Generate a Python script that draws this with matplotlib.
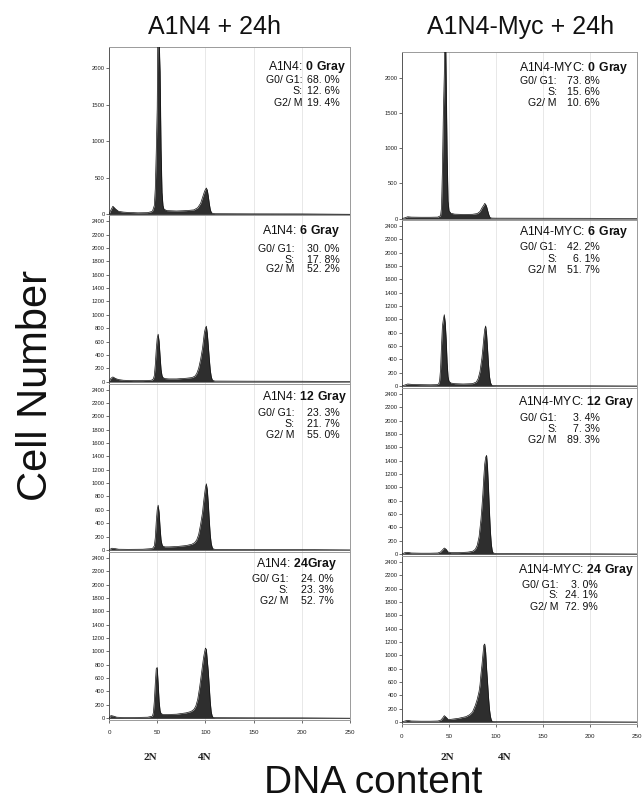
import matplotlib
matplotlib.use("Agg")
import matplotlib.pyplot as plt

plt.rcParams['font.family'] = ['Liberation Sans', 'DejaVu Sans']
plt.rcParams['mathtext.fontset'] = 'custom'
plt.rcParams['mathtext.rm'] = 'Liberation Sans'
plt.rcParams['mathtext.bf'] = 'Liberation Sans:bold'

# ---------------- data ----------------
col_titles = ["A1N4 + 24h", "A1N4-Myc + 24h"]
left_prefix = "A1N4: "
right_prefix = "A1N4-MYC: "
left_dose_labels = ["0 Gray", "6 Gray", "12 Gray", "24Gray"]
right_dose_labels = ["0 Gray", "6 Gray", "12 Gray", "24 Gray"]
phase_labels = ["G0/ G1:", "S:", "G2/ M"]
left_pct = [["68. 0%", "12. 6%", "19. 4%"],
            ["30. 0%", "17. 8%", "52. 2%"],
            ["23. 3%", "21. 7%", "55. 0%"],
            ["24. 0%", "23. 3%", "52. 7%"]]
right_pct = [["73. 8%", "15. 6%", "10. 6%"],
             ["42. 2%", "6. 1%", "51. 7%"],
             ["3. 4%", "7. 3%", "89. 3%"],
             ["3. 0%", "24. 1%", "72. 9%"]]

# histograms (channel, cell count)
L0_x = [0, 2, 4, 7, 10, 15, 20, 30, 40, 45, 47, 48, 49, 50, 51, 52, 53, 54, 55, 56, 57, 60, 70, 80, 88, 92, 95, 97, 99, 100, 101, 102, 103, 104, 105, 106, 107, 110, 150, 200, 250]
L0_y = [0, 60, 110, 70, 40, 30, 25, 20, 22, 40, 120, 350, 850, 1450, 3000, 2400, 1950, 900, 300, 120, 70, 50, 45, 50, 60, 90, 150, 230, 310, 340, 360, 330, 250, 150, 70, 30, 15, 8, 6, 5, 0]

L6_x = [0, 2, 4, 7, 10, 15, 25, 35, 44, 46, 47, 48, 49, 50, 51, 52, 53, 54, 55, 56, 58, 62, 70, 80, 86, 89, 91, 93, 95, 97, 98, 99, 100, 101, 102, 103, 104, 105, 106, 107, 108, 110, 150, 200, 250]
L6_y = [0, 50, 70, 45, 30, 20, 15, 15, 20, 40, 90, 250, 480, 650, 710, 600, 380, 180, 90, 60, 45, 40, 40, 50, 60, 80, 120, 200, 330, 500, 620, 740, 800, 830, 720, 540, 350, 180, 80, 30, 15, 8, 6, 5, 0]

L12_x = [0, 3, 6, 10, 20, 35, 45, 47, 48, 49, 50, 51, 52, 53, 54, 55, 56, 58, 62, 70, 80, 86, 89, 91, 93, 95, 97, 98, 99, 100, 101, 102, 103, 104, 105, 106, 107, 108, 110, 150, 200, 250]
L12_y = [0, 25, 20, 10, 8, 10, 20, 60, 180, 420, 600, 670, 560, 330, 150, 80, 55, 45, 45, 50, 65, 85, 110, 150, 230, 380, 560, 700, 820, 930, 990, 900, 700, 450, 230, 100, 40, 15, 8, 6, 5, 0]

L24_x = [0, 2, 5, 8, 15, 25, 40, 45, 46, 47, 48, 49, 50, 51, 52, 53, 54, 56, 60, 70, 80, 85, 88, 90, 92, 94, 96, 98, 99, 100, 101, 102, 103, 104, 105, 106, 107, 108, 110, 150, 200, 250]
L24_y = [0, 40, 30, 15, 10, 10, 15, 30, 80, 250, 520, 740, 760, 520, 250, 110, 70, 55, 55, 60, 80, 100, 130, 180, 280, 460, 680, 900, 980, 1050, 1030, 860, 700, 480, 250, 100, 35, 12, 8, 6, 5, 0]

R0_x = [0, 3, 6, 10, 20, 30, 38, 41, 42, 43, 44, 45, 46, 47, 48, 49, 50, 52, 56, 65, 75, 80, 83, 85, 87, 88, 89, 90, 91, 92, 93, 94, 96, 100, 150, 200, 250]
R0_y = [0, 10, 25, 20, 18, 18, 20, 40, 150, 700, 1500, 2050, 3000, 2000, 900, 250, 110, 75, 62, 58, 60, 70, 100, 150, 190, 215, 200, 170, 120, 70, 30, 10, 6, 5, 4, 3, 0]

R6_x = [0, 3, 6, 10, 20, 30, 37, 39, 40, 41, 42, 43, 44, 45, 46, 47, 48, 49, 50, 52, 56, 65, 75, 79, 81, 83, 85, 86, 87, 88, 89, 90, 91, 92, 93, 94, 95, 96, 100, 150, 200, 250]
R6_y = [0, 15, 30, 25, 20, 18, 20, 30, 80, 250, 600, 900, 1000, 1070, 950, 700, 350, 140, 70, 45, 35, 30, 35, 60, 110, 220, 420, 560, 720, 850, 900, 780, 560, 330, 150, 60, 20, 8, 5, 4, 3, 0]

R12_x = [0, 3, 6, 10, 20, 30, 38, 41, 43, 45, 47, 49, 52, 60, 70, 75, 78, 80, 82, 84, 85, 86, 87, 88, 89, 90, 91, 92, 93, 94, 95, 96, 97, 100, 150, 200, 250]
R12_y = [0, 20, 25, 15, 12, 12, 15, 30, 60, 90, 70, 30, 20, 20, 28, 40, 70, 130, 260, 520, 700, 900, 1150, 1350, 1450, 1480, 1300, 1000, 650, 350, 150, 50, 15, 6, 4, 3, 0]

R24_x = [0, 3, 6, 10, 20, 30, 38, 41, 43, 45, 47, 49, 52, 60, 68, 72, 75, 78, 80, 82, 83, 84, 85, 86, 87, 88, 89, 90, 91, 92, 93, 94, 95, 96, 100, 150, 200, 250]
R24_y = [0, 15, 25, 15, 12, 12, 15, 25, 55, 95, 70, 40, 40, 55, 80, 110, 150, 250, 340, 460, 560, 720, 850, 1000, 1150, 1170, 1050, 800, 600, 380, 200, 90, 30, 10, 6, 4, 3, 0]

left_hists = [(L0_x, L0_y), (L6_x, L6_y), (L12_x, L12_y), (L24_x, L24_y)]
right_hists = [(R0_x, R0_y), (R6_x, R6_y), (R12_x, R12_y), (R24_x, R24_y)]

x_ticks = [0, 50, 100, 150, 200, 250]
top_yticks = [0, 500, 1000, 1500, 2000]
yticks = list(range(0, 2401, 200))
ploidy_labels = ["2N", "4N"]

# ---------------- layout (pixels) ----------------
W, H = 642, 811
fig = plt.figure(figsize=(W / 100, H / 100), dpi=100)

def px_axes(x0, x1, y0, y1):
    return fig.add_axes([x0 / W, 1 - y1 / H, (x1 - x0) / W, (y1 - y0) / H])

cols = [
    dict(x0=109, x1=350, top=47, ph=168.3, hists=left_hists, prefix=left_prefix,
         dl=left_dose_labels, pct=left_pct, top_ylim=(-14, 2292),
         tx=[268, 262, 262, 256], lab=[302, 294, 294, 288], val=[340, 340, 340, 334],
         ty=[20, 16, 13, 12], sy=[[33, 44, 56], [34, 45, 54], [29, 40, 51], [27, 38, 49]]),
    dict(x0=402, x1=637, top=52, ph=168.0, hists=right_hists, prefix=right_prefix,
         dl=right_dose_labels, pct=right_pct, top_ylim=(-21, 2365),
         tx=[519, 519, 518, 518], lab=[557, 557, 557, 558], val=[600, 600, 600, 598],
         ty=[16, 12, 14, 14], sy=[[29, 40, 51], [27, 39, 50], [30, 41, 52], [29, 39, 51]]),
]

fill_c = '#2e2e2e'
for ci, c in enumerate(cols):
    for i in range(4):
        ytop = c['top'] + i * c['ph']
        ax = px_axes(c['x0'], c['x1'], ytop, ytop + c['ph'])
        hx, hy = c['hists'][i]
        ax.fill_between(hx, 0, hy, color=fill_c, lw=0.0, zorder=3)
        ax.plot(hx, hy, color='#111111', lw=0.5, zorder=4)
        ax.axhline(0, color='#777777', lw=0.6, zorder=2)
        ax.set_xlim(0, 250)
        if i == 0:
            ax.set_ylim(*c['top_ylim'])
            ax.set_yticks(top_yticks)
        else:
            ax.set_ylim(-30, 2490)
            ax.set_yticks(yticks)
        ax.set_xticks(x_ticks)
        for xv in x_ticks[1:-1]:
            ax.axvline(xv, color='#e4e4e4', lw=0.6, zorder=1)
        ax.tick_params(axis='y', labelsize=4.2, length=2, width=0.5, pad=1,
                       colors='#333333', labelcolor='#222222')
        if i == 3:
            ax.tick_params(axis='x', labelsize=4.5, length=2, width=0.5, pad=5,
                           colors='#333333', labelcolor='#222222')
        else:
            ax.tick_params(axis='x', length=0, labelbottom=False)
        for s in ax.spines.values():
            s.set_color('#9a9a9a')
            s.set_linewidth(0.7)
        ax.spines['left'].set_color('#555555')

        ph = c['ph']
        fx = lambda p: (p - c['x0']) / (c['x1'] - c['x0'])
        fy = lambda d: 1 - d / ph
        ax.text(fx(c['tx'][i]), fy(c['ty'][i]),
                c['prefix'] + r"$\mathbf{" + c['dl'][i].replace(' ', r'\ ') + "}$",
                transform=ax.transAxes, ha='left', va='center', fontsize=8.8,
                color='#111111', clip_on=False)
        for k in range(3):
            ax.text(fx(c['lab'][i]), fy(c['sy'][i][k]), phase_labels[k],
                    transform=ax.transAxes, ha='right', va='center', fontsize=7.6,
                    color='#111111')
            ax.text(fx(c['val'][i]), fy(c['sy'][i][k]), c['pct'][i][k],
                    transform=ax.transAxes, ha='right', va='center', fontsize=7.6,
                    color='#111111')

# column titles
fig.text(215 / W, 1 - 27 / H, col_titles[0], ha='center', va='center', fontsize=18, color='#111111')
fig.text(521 / W, 1 - 27 / H, col_titles[1], ha='center', va='center', fontsize=18, color='#111111')

# 2N / 4N labels
for (x2, x4) in [(150, 205), (447, 505)]:
    fig.text(x2 / W, 1 - 757 / H, ploidy_labels[0], ha='center', va='center', fontsize=8,
             family='Liberation Serif', weight='bold', color='#222222')
    fig.text(x4 / W, 1 - 757 / H, ploidy_labels[1], ha='center', va='center', fontsize=8,
             family='Liberation Serif', weight='bold', color='#222222')

# axis titles
fig.text(36 / W, 1 - 385 / H, "Cell Number", rotation=90, ha='center', va='center',
         fontsize=30, color='#111111')
fig.text(373 / W, 1 - 783 / H, "DNA content", ha='center', va='center',
         fontsize=28, color='#111111')

fig.savefig("out.png", dpi=100)
